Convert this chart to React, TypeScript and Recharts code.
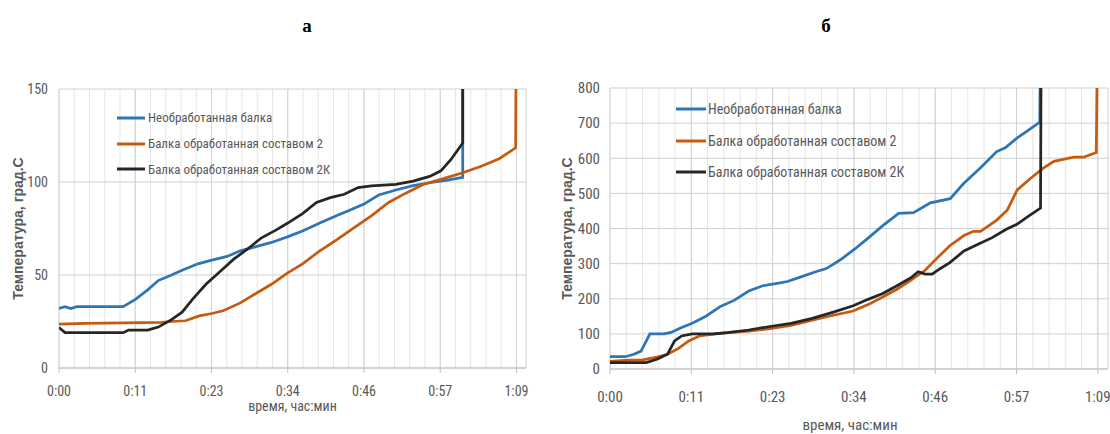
import React from "react";
import {
  LineChart,
  Line,
  XAxis,
  YAxis,
  CartesianGrid,
  Legend,
  Label,
} from "recharts";

// time axis in minutes, Excel-style date ticks (every 0.008 day = 11.52 min)
const X_MAX = 70.56;
const xTicks = [0, 11.52, 23.04, 34.56, 46.08, 57.6, 69.12];
const xTickLabels = ["0:00", "0:11", "0:23", "0:34", "0:46", "0:57", "1:09"];
const minorTicks = Array.from({ length: 31 }, (_, i) => +(i * 2.304).toFixed(3));

const seriesNames = [
  "Необработанная балка",
  "Балка обработанная составом 2",
  "Балка обработанная составом 2К",
];
const seriesColors = ["#2E75B6", "#C55A11", "#262626"];

// а — temperatures up to 150
const leftTicksY = [0, 50, 100, 150];

const leftBlueT = [0, 0.9, 1.8, 2.7, 3.5, 9.7, 11.6, 13.4, 15, 17, 18.6, 21, 23.1, 25.4, 27.4, 29.5, 32.1, 34.5, 36.8, 39.4, 42, 44, 46, 48.3, 50.9, 53.5, 56, 58.7, 61, 61];
const leftBlueV = [32, 33, 32, 33, 33, 33, 37, 42, 47, 50, 52.6, 56, 58, 60, 63, 65, 67.5, 70.5, 73.7, 78, 82, 85, 88, 93, 95.7, 98, 99.6, 101, 102.5, 200];

const leftOrangeT = [0, 4, 15.5, 17, 19.1, 21.2, 23.1, 24.8, 27.4, 30, 32.1, 34.5, 36.8, 39.4, 42, 44.6, 47.2, 49.8, 52.4, 55, 57.7, 61, 63.9, 66.5, 69, 69.1];
const leftOrangeV = [23.6, 24, 24.5, 25, 25.4, 28, 29.3, 30.8, 35, 40.6, 45, 51, 56, 63, 69, 75.5, 81.8, 89, 94, 98.7, 101.4, 105, 108.6, 112.5, 118.4, 200];

const leftBlackT = [0, 0.9, 9.7, 10.5, 13.4, 15, 17, 18.6, 20.2, 22.2, 24.3, 26.4, 28.5, 30.6, 32.7, 34.5, 36.8, 38.9, 41, 43.1, 45.2, 47.2, 50.9, 53.5, 56, 57.7, 59.2, 61, 61];
const leftBlackV = [21.8, 19, 19, 20.4, 20.4, 22, 26, 30, 37, 45, 51.7, 58.5, 64, 70, 74, 77.8, 83, 89, 91.6, 93.4, 97, 97.9, 98.7, 100.5, 103, 106, 112, 121, 200];

// б — temperatures up to 800
const rightTicksY = [0, 100, 200, 300, 400, 500, 600, 700, 800];

const rightBlueT = [0, 2.15, 3.4, 4.4, 5.15, 5.65, 7.65, 8.65, 10.15, 11.65, 13.65, 15.65, 17.65, 19.65, 21.65, 23.5, 25.15, 27.15, 29.15, 30.65, 32.65, 34.65, 36.65, 38.65, 40.9, 43, 45.4, 48.2, 50.1, 52.5, 54.8, 56, 57.7, 59.1, 60.9, 61];
const rightBlueV = [35, 35, 42, 51, 80, 100, 100, 104, 118, 130, 151, 178, 196, 222, 237, 243, 249, 263, 277, 286, 311, 341, 374, 408, 443, 445, 473, 485, 528, 573, 619, 630, 658, 677, 703, 1000];

const rightOrangeT = [0, 2.65, 4.65, 6.65, 8.15, 9.65, 11.15, 12.65, 14.65, 16.65, 19.65, 22.65, 25.65, 28.65, 31.65, 34.45, 36.65, 38.65, 40.65, 42.65, 44.65, 46.65, 48.15, 50.15, 51.5, 52.5, 54.8, 56.3, 57.7, 59.6, 61.4, 62.9, 65.7, 67.1, 68.9, 69.1];
const rightOrangeV = [22, 25, 26, 34, 42, 58, 80, 94, 99, 103.6, 108, 115, 124, 139, 153, 165, 184, 205, 227, 253, 281, 322, 351, 380, 392, 392, 424, 453, 510, 543, 572, 591, 603, 603, 616, 1000];

const rightBlackT = [0, 5.15, 6.65, 8.15, 9.15, 10.15, 11.65, 14.65, 16.65, 19.65, 22.65, 25.65, 28.65, 31.65, 34.45, 36.65, 38.65, 40.65, 42.65, 43.65, 44.65, 45.65, 46.65, 48.15, 50.15, 52.15, 54.15, 56.15, 57.65, 59.15, 61, 61.1];
const rightBlackV = [18, 18, 27.5, 42, 80, 94, 100, 100, 103.6, 111, 121, 130, 144, 162, 180, 199, 215, 237, 260, 277, 270, 270, 284, 303, 336, 355, 374, 398, 412, 433, 458, 1000];

const NARROW =
  "'Liberation Sans Narrow', 'Arial Narrow', 'Roboto Condensed', 'DejaVu Sans Condensed', 'Liberation Sans', sans-serif";
const TEXT = "#595959";

const zip = (t: number[], v: number[]) => t.map((x, i) => ({ t: x, v: v[i] }));

const fmtTime = (val: number) => {
  const i = xTicks.indexOf(val);
  return i >= 0 ? xTickLabels[i] : "";
};

const LegendBox = ({ payload, rowH, lineW, gap, fontSize }: any) => {
  const items = [...(payload || [])].sort(
    (a: any, b: any) => seriesNames.indexOf(a.value) - seriesNames.indexOf(b.value)
  );
  return (
    <div>
      {items.map((p: any) => (
        <div key={p.value} style={{ display: "flex", alignItems: "center", height: rowH }}>
          <svg width={lineW} height={4} style={{ display: "block" }}>
            <line x1={0} y1={2} x2={lineW} y2={2} stroke={p.color} strokeWidth={3} />
          </svg>
          <span
            style={{
              marginLeft: gap,
              fontSize,
              color: TEXT,
              fontFamily: NARROW,
              whiteSpace: "nowrap",
              lineHeight: 1,
            }}
          >
            {p.value}
          </span>
        </div>
      ))}
    </div>
  );
};

interface PanelProps {
  width: number;
  yMax: number;
  yTicks: number[];
  yAxisW: number;
  top: number;
  right: number;
  xAxisH: number;
  tickMarginX: number;
  tickMarginY: number;
  fontSize: number;
  series: { t: number; v: number }[][];
  legend: { left: number; top: number; rowH: number; lineW: number; gap: number; fontSize: number };
  yTitleOffset: number;
  xTitleOffset: number;
  xTitleDx: number;
}

const Panel: React.FC<PanelProps> = (p) => (
  <LineChart
    width={p.width}
    height={434}
    margin={{ top: p.top, right: p.right, bottom: 0, left: 0 }}
  >
    {/* minor vertical gridlines, then major grid on top */}
    <CartesianGrid horizontal={false} verticalValues={minorTicks} stroke="#E6E6E6" />
    <CartesianGrid stroke="#D0D0D0" />
    {/* zero-height axis, only draws the small minor tick marks inside the plot */}
    <XAxis
      xAxisId="minorMarks"
      type="number"
      domain={[0, X_MAX]}
      ticks={minorTicks}
      interval={0}
      allowDataOverflow
      height={0}
      mirror
      axisLine={false}
      tick={false}
      tickSize={4}
      tickLine={{ stroke: "#BFBFBF" }}
    />
    <XAxis
      dataKey="t"
      type="number"
      domain={[0, X_MAX]}
      ticks={xTicks}
      interval={0}
      tickFormatter={fmtTime}
      allowDataOverflow
      height={p.xAxisH}
      axisLine={{ stroke: "#BFBFBF" }}
      tickLine={{ stroke: "#BFBFBF" }}
      tickSize={5}
      tickMargin={p.tickMarginX}
      tick={{ fill: TEXT, fontSize: p.fontSize, fontFamily: NARROW }}
    >
      <Label
        value="время, час:мин"
        position="insideBottom"
        offset={p.xTitleOffset}
        dx={p.xTitleDx}
        style={{ fill: TEXT, fontSize: p.fontSize, fontFamily: NARROW }}
      />
    </XAxis>
    <YAxis
      type="number"
      domain={[0, p.yMax]}
      ticks={p.yTicks}
      allowDataOverflow
      width={p.yAxisW}
      axisLine={false}
      tickLine={false}
      tickSize={0}
      tickMargin={p.tickMarginY}
      tick={{ fill: TEXT, fontSize: p.fontSize, fontFamily: NARROW }}
    >
      <Label
        value="Температура, град.С"
        angle={-90}
        position="insideLeft"
        offset={p.yTitleOffset}
        style={{
          textAnchor: "middle",
          fill: TEXT,
          fontSize: 14,
          fontWeight: "bold",
          fontFamily: "'Liberation Sans', Arial, sans-serif",
        }}
      />
    </YAxis>
    <Legend
      layout="vertical"
      align="center"
      verticalAlign="middle"
      wrapperStyle={{ left: p.legend.left, top: p.legend.top, width: "auto" }}
      content={(props: any) => <LegendBox {...props} {...p.legend} />}
    />
    {p.series.map((d, i) => (
      <Line
        key={seriesNames[i]}
        data={d}
        dataKey="v"
        name={seriesNames[i]}
        type="linear"
        stroke={seriesColors[i]}
        strokeWidth={2.75}
        dot={false}
        activeDot={false}
        isAnimationActive={false}
      />
    ))}
  </LineChart>
);

const titleStyle: React.CSSProperties = {
  position: "absolute",
  top: 16,
  transform: "translateX(-50%)",
  fontFamily: "'Liberation Serif', 'Times New Roman', serif",
  fontWeight: "bold",
  fontSize: 19,
  lineHeight: 1,
};

export default function App() {
  return (
    <div
      style={{
        position: "absolute",
        left: 0,
        top: 0,
        width: 1110,
        height: 434,
        background: "#fff",
        overflow: "hidden",
      }}
    >
      <div style={{ ...titleStyle, left: 307 }}>а</div>
      <div style={{ ...titleStyle, left: 826 }}>б</div>
      <div style={{ position: "absolute", left: 0, top: 0 }}>
        <Panel
          width={540}
          yMax={150}
          yTicks={leftTicksY}
          yAxisW={59}
          top={89}
          right={14}
          xAxisH={66}
          tickMarginX={13}
          tickMarginY={11}
          fontSize={14}
          series={[zip(leftBlueT, leftBlueV), zip(leftOrangeT, leftOrangeV), zip(leftBlackT, leftBlackV)]}
          legend={{ left: 117, top: 105, rowH: 25.7, lineW: 28, gap: 3, fontSize: 13 }}
          yTitleOffset={18}
          xTitleOffset={23}
          xTitleDx={0}
        />
      </div>
      <div style={{ position: "absolute", left: 550, top: 0 }}>
        <Panel
          width={560}
          yMax={800}
          yTicks={rightTicksY}
          yAxisW={60}
          top={88}
          right={2}
          xAxisH={65}
          tickMarginX={17}
          tickMarginY={10}
          fontSize={15}
          series={[zip(rightBlueT, rightBlueV), zip(rightOrangeT, rightOrangeV), zip(rightBlackT, rightBlackV)]}
          legend={{ left: 126, top: 93.5, rowH: 31.6, lineW: 30, gap: 2, fontSize: 14 }}
          yTitleOffset={17}
          xTitleOffset={4}
          xTitleDx={-9}
        />
      </div>
    </div>
  );
}
